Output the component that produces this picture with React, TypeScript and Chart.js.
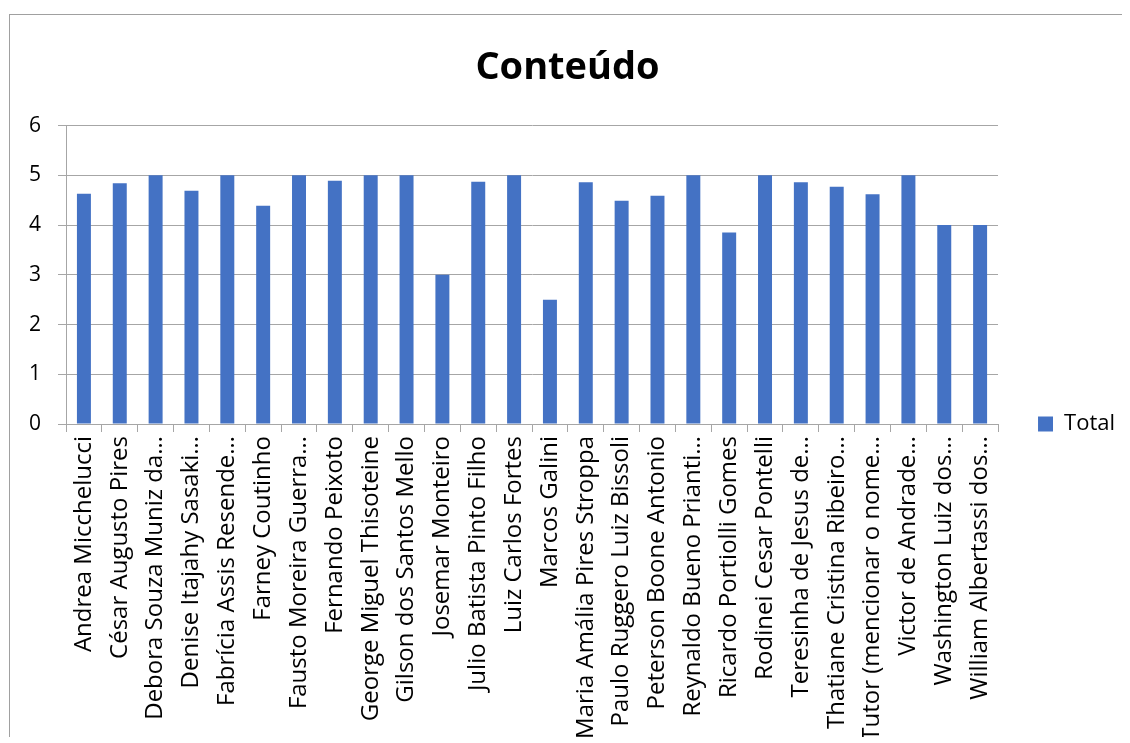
import React, { useEffect, useRef } from "react";
import { Chart, registerables } from "chart.js";

Chart.register(...registerables);

const categories: string[] = [
  "Andrea Micchelucci",
  "César Augusto Pires",
  "Debora Souza Muniz da…",
  "Denise Itajahy Sasaki…",
  "Fabrícia Assis Resende…",
  "Farney Coutinho",
  "Fausto Moreira Guerra…",
  "Fernando Peixoto",
  "George Miguel Thisoteine",
  "Gilson dos Santos Mello",
  "Josemar Monteiro",
  "Julio Batista Pinto Filho",
  "Luiz Carlos Fortes",
  "Marcos Galini",
  "Maria Amália Pires Stroppa",
  "Paulo Ruggero Luiz Bissoli",
  "Peterson Boone Antonio",
  "Reynaldo Bueno Prianti…",
  "Ricardo Portiolli Gomes",
  "Rodinei Cesar Pontelli",
  "Teresinha de Jesus de…",
  "Thatiane Cristina Ribeiro…",
  "Tutor (mencionar o nome…",
  "Victor de Andrade…",
  "Washington Luiz dos…",
  "William Albertassi dos…",
];

const totalValues: number[] = [
  4.63, 4.84, 5, 4.69, 5, 4.39, 5, 4.89, 5, 5, 3, 4.87, 5, 2.5, 4.86, 4.49,
  4.59, 5, 3.85, 5, 4.86, 4.77, 4.62, 5, 4, 4,
];

const seriesName = "Total";
const chartTitle = "Conteúdo";
const yMin = 0;
const yMax = 6;
const yStep = 1;

const FONT = "'Open Sans', sans-serif";

export default function App() {
  const ref = useRef<HTMLCanvasElement | null>(null);

  useEffect(() => {
    if (!ref.current) return;
    const chart = new Chart(ref.current, {
      type: "bar",
      data: {
        labels: categories,
        datasets: [
          {
            label: seriesName,
            data: totalValues,
            backgroundColor: "#4472C4",
            borderColor: "#4472C4",
            borderWidth: 0,
            barPercentage: 0.39,
            categoryPercentage: 1,
          },
        ],
      },
      options: {
        animation: false,
        responsive: false,
        maintainAspectRatio: false,
        layout: { padding: { left: 0, right: 6, top: 0, bottom: 0 } },
        plugins: {
          title: {
            display: true,
            text: chartTitle,
            color: "#000",
            font: { family: FONT, size: 38, weight: "bold" },
            padding: { top: 30, bottom: 35 },
          },
          legend: {
            display: true,
            position: "right",
            maxWidth: 134,
            title: {
              display: true,
              text: "",
              font: { family: FONT, size: 10 },
              padding: { top: 0, bottom: 78 },
            },
            labels: {
              color: "#000",
              font: { family: FONT, size: 22 },
              boxWidth: 15,
              boxHeight: 15,
              padding: 40,
            },
          },
          tooltip: { enabled: false },
        },
        scales: {
          x: {
            offset: true,
            afterFit: (s: any) => {
              s.height = 319;
            },
            grid: {
              display: true,
              offset: true,
              drawOnChartArea: false,
              drawTicks: true,
              tickLength: 8,
              color: "#a6a6a6",
            },
            border: { display: true, color: "#a6a6a6" },
            ticks: {
              autoSkip: false,
              maxRotation: 90,
              minRotation: 90,
              padding: 4,
              color: "#000",
              font: { family: FONT, size: 24 },
            },
          },
          y: {
            min: yMin,
            max: yMax,
            afterFit: (s: any) => {
              s.width = 56;
            },
            grid: {
              color: "#a6a6a6",
              tickLength: 8,
            },
            border: { display: true, color: "#a6a6a6" },
            ticks: {
              stepSize: yStep,
              padding: 17,
              color: "#000",
              font: { family: FONT, size: 21 },
            },
          },
        },
      },
    });
    return () => chart.destroy();
  }, []);

  return (
    <div
      style={{
        position: "relative",
        top: 6,
        left: 1,
        width: 1121,
        height: 728,
        borderLeft: "1px solid #a0a0a0",
        borderTop: "1px solid #a0a0a0",
        overflow: "hidden",
      }}
    >
      <canvas ref={ref} width={1121} height={728} style={{ display: "block" }} />
    </div>
  );
}
